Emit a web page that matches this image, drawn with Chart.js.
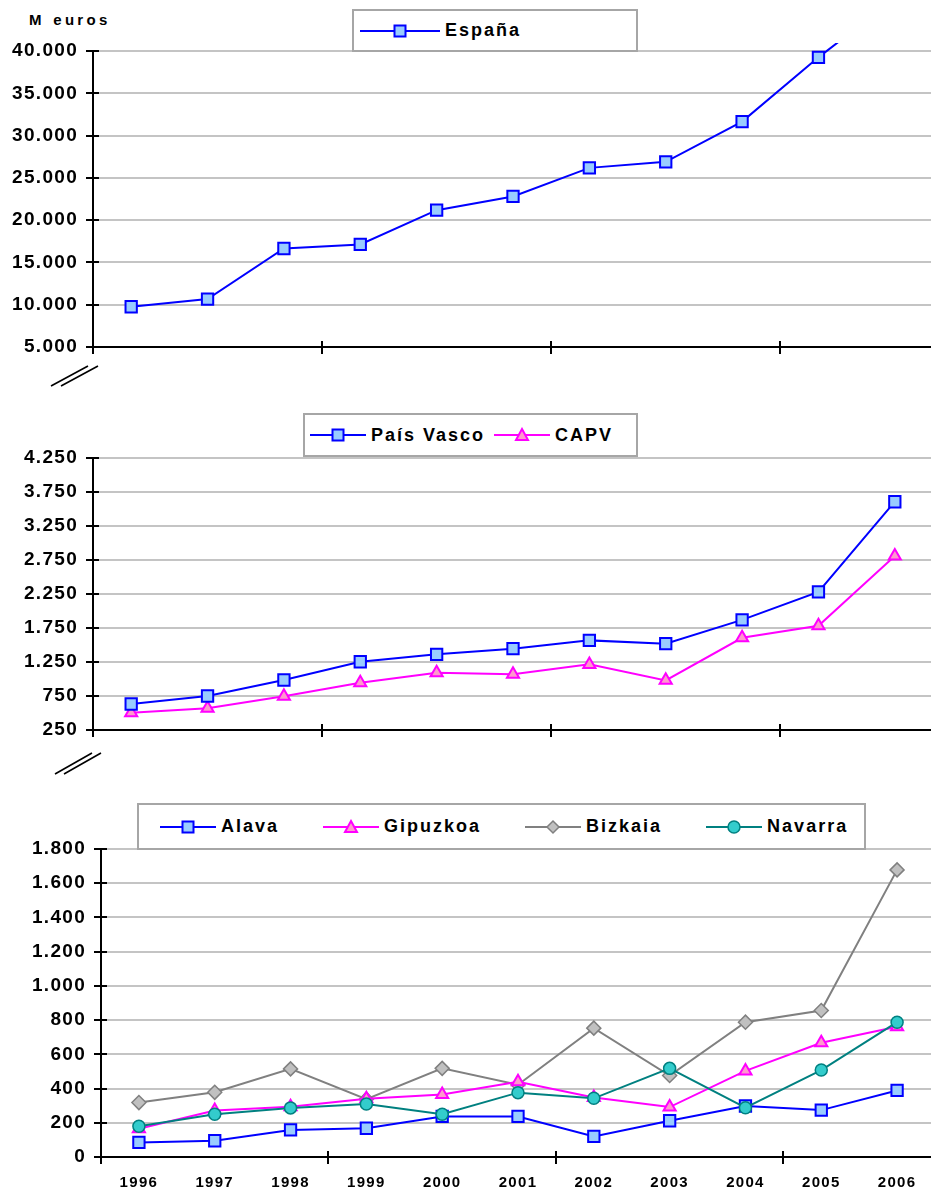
<!DOCTYPE html>
<html>
<head>
<meta charset="utf-8">
<script src="https://cdn.jsdelivr.net/npm/chart.js@4.4.1/dist/chart.umd.min.js"></script>
<style>
  html, body { margin: 0; padding: 0; background: #fff; }
  #page { position: relative; width: 931px; height: 1191px; overflow: hidden;
          font-family: "Liberation Sans", Arial, sans-serif; }
  canvas { position: absolute; left: 0; }
  .legend { position: absolute; box-sizing: border-box; background: #fff;
            border: 2px solid #a6a6a6; display: flex; align-items: center; z-index: 2; }
  .item { display: flex; align-items: center; }
  .item svg { display: block; }
  .item span { font-weight: bold; font-size: 18px; letter-spacing: 2px; color: #000;
               margin-left: 5px; white-space: nowrap; }
  .unit { position: absolute; left: 29px; top: 12px; font-weight: bold; font-size: 15px;
          line-height: 15px; letter-spacing: 3.3px; word-spacing: 1px; color: #000; }
</style>
</head>
<body>
<div id="page">
  <div class="unit">M euros</div>
  <canvas id="c1" width="945" height="400" style="top:0px"></canvas>
  <canvas id="c2" width="945" height="390" style="top:400px"></canvas>
  <canvas id="c3" width="945" height="401" style="top:790px"></canvas>
  <div id="lg1" class="legend" style="left:352px;top:9px;width:286px;height:43px;padding-left:6px"></div>
  <div id="lg2" class="legend" style="left:303px;top:413px;width:335px;height:44px;padding-left:5px;gap:9px"></div>
  <div id="lg3" class="legend" style="left:137px;top:803px;width:729px;height:47px;padding-left:21px;gap:44px"></div>
</div>
<script>
// Years on the category axis
const years = ['1996', '1997', '1998', '1999', '2000', '2001', '2002', '2003', '2004', '2005', '2006'];

// Millions of euros
const espana    = [9760, 10670, 16650, 17130, 21180, 22800, 26180, 26900, 31650, 39250, 46200];
const paisVasco = [632, 750, 985, 1254, 1363, 1446, 1568, 1520, 1870, 2280, 3607];
const capv      = [503, 569, 747, 946, 1093, 1069, 1215, 980, 1606, 1784, 2810];
const alava     = [85, 95, 158, 168, 237, 237, 120, 212, 298, 274, 389];
const gipuzkoa  = [165, 272, 293, 340, 365, 440, 348, 292, 503, 668, 761];
const bizkaia   = [318, 378, 515, 338, 518, 422, 753, 476, 788, 856, 1678];
const navarra   = [180, 250, 287, 310, 250, 376, 343, 518, 288, 508, 788];

// Value axis ranges: [min, max, step]
const range1 = [5000, 40000, 5000];
const range2 = [250, 4250, 500];
const range3 = [0, 1800, 200];

// Marker / line styles
const STYLE = {
  square:   { color: '#0000ff', fill: '#99ccff', pointStyle: 'rect',     radius: 8, bw: 2 },
  triangle: { color: '#ff00ff', fill: '#ff99cc', pointStyle: 'triangle', radius: 7, bw: 2 },
  diamond:  { color: '#808080', fill: '#c0c0c0', pointStyle: 'rectRot',  radius: 7, bw: 1.5 },
  circle:   { color: '#008080', fill: '#33cccc', pointStyle: 'circle',   radius: 6, bw: 1.5 }
};

Chart.defaults.font.family = '"Liberation Sans", Arial, sans-serif';

function fmt(v) {
  return String(v).replace(/\B(?=(\d{3})+(?!\d))/g, '.');
}

function dataset(label, data, st, order, clip) {
  return {
    label, data, order,
    borderColor: st.color, borderWidth: 2, tension: 0,
    pointStyle: st.pointStyle, pointRadius: st.radius, pointHoverRadius: st.radius,
    pointBackgroundColor: st.fill, pointBorderColor: st.color, pointBorderWidth: st.bw,
    clip: clip || { left: 6, right: 6, top: 6, bottom: 6 }
  };
}

// Cross tick marks on both axes, axis break strokes and letter spacing for labels
const axisDecor = {
  id: 'axisDecor',
  beforeDraw(chart) {
    chart.ctx.letterSpacing = '1.3px';
  },
  afterDraw(chart, args, opts) {
    const ctx = chart.ctx, ys = chart.scales.y, xs = chart.scales.x;
    const left = chart.chartArea.left, bottom = chart.chartArea.bottom;
    ctx.save();
    ctx.letterSpacing = '0px';
    ctx.strokeStyle = '#000';
    ctx.lineWidth = 2;
    ctx.beginPath();
    ys.ticks.forEach(t => {
      const y = Math.round(ys.getPixelForValue(t.value));
      ctx.moveTo(left - 7, y);
      ctx.lineTo(left + 6, y);
    });
    const half = (xs.getPixelForValue(1) - xs.getPixelForValue(0)) / 2;
    for (let i = 0; i < years.length; i += 3) {
      const x = Math.round(xs.getPixelForValue(i) - half);
      ctx.moveTo(x, bottom - (i === 0 ? 0 : 6));
      ctx.lineTo(x, bottom + 7);
    }
    ctx.stroke();
    if (opts.breaks) {
      ctx.lineWidth = 1.6;
      ctx.beginPath();
      opts.breaks.forEach(b => {
        ctx.moveTo(left + b[0], bottom + b[1]);
        ctx.lineTo(left + b[2], bottom + b[3]);
      });
      ctx.stroke();
    }
    ctx.restore();
  }
};

function makeChart(id, datasets, range, geo) {
  return new Chart(document.getElementById(id), {
    type: 'line',
    data: { labels: years, datasets },
    options: {
      responsive: false, animation: false, devicePixelRatio: 1,
      layout: { autoPadding: false, padding: { top: geo.top, right: geo.right, left: 0, bottom: 0 } },
      plugins: { legend: { display: false }, tooltip: { enabled: false },
                 axisDecor: { breaks: geo.breaks } },
      scales: {
        x: {
          offset: true,
          grid: { drawOnChartArea: false, drawTicks: false },
          border: { color: '#000', width: 2 },
          ticks: { display: geo.xLabels, autoSkip: false, maxRotation: 0, padding: 17,
                   color: '#000', font: { size: 15, weight: 'bold' } },
          afterFit(s) { s.height = geo.xHeight; }
        },
        y: {
          min: range[0], max: range[1],
          grid: { color: '#c4c4c4', lineWidth: 2, drawTicks: false },
          border: { color: '#000', width: 2 },
          ticks: { stepSize: range[2], padding: 15, color: '#000',
                   font: { size: 19, weight: 'bold' }, callback: v => fmt(v) },
          afterFit(s) { s.width = geo.yWidth; }
        }
      }
    },
    plugins: [axisDecor]
  });
}

function legend(id, items, lineW) {
  const el = document.getElementById(id);
  items.forEach(([name, st]) => {
    const w = lineW, cx = w / 2, cy = 8;
    let shape = '';
    if (st.pointStyle === 'rect') {
      shape = `<rect x="${cx - 5.5}" y="${cy - 5.5}" width="11" height="11" fill="${st.fill}" stroke="${st.color}" stroke-width="2"/>`;
    } else if (st.pointStyle === 'triangle') {
      shape = `<polygon points="${cx},${cy - 6} ${cx + 6},${cy + 5} ${cx - 6},${cy + 5}" fill="${st.fill}" stroke="${st.color}" stroke-width="2"/>`;
    } else if (st.pointStyle === 'rectRot') {
      shape = `<polygon points="${cx},${cy - 6} ${cx + 6},${cy} ${cx},${cy + 6} ${cx - 6},${cy}" fill="${st.fill}" stroke="${st.color}" stroke-width="1.5"/>`;
    } else {
      shape = `<circle cx="${cx}" cy="${cy}" r="6" fill="${st.fill}" stroke="${st.color}" stroke-width="1.5"/>`;
    }
    const item = document.createElement('div');
    item.className = 'item';
    item.innerHTML = `<svg width="${w}" height="16"><line x1="0" y1="${cy}" x2="${w}" y2="${cy}" stroke="${st.color}" stroke-width="2"/>${shape}</svg><span>${name}</span>`;
    el.appendChild(item);
  });
}

makeChart('c1', [dataset('España', espana, STYLE.square, 1, { left: 6, right: 6, top: 8, bottom: 6 })],
  range1, { top: 51, right: 12, xHeight: 53, yWidth: 93, xLabels: false,
            breaks: [[-42, 39, -5, 19], [-32, 39, 5, 19]] });

makeChart('c2', [
    dataset('País Vasco', paisVasco, STYLE.square, 1),
    dataset('CAPV', capv, STYLE.triangle, 2)
  ], range2, { top: 58, right: 12, xHeight: 60, yWidth: 93, xLabels: false,
               breaks: [[-38, 44, -1, 23], [-29, 44, 8, 23]] });

makeChart('c3', [
    dataset('Alava', alava, STYLE.square, 3),
    dataset('Gipuzkoa', gipuzkoa, STYLE.triangle, 2),
    dataset('Bizkaia', bizkaia, STYLE.diamond, 4),
    dataset('Navarra', navarra, STYLE.circle, 1)
  ], range3, { top: 59, right: 10, xHeight: 34, yWidth: 101, xLabels: true, breaks: null });

legend('lg1', [['España', STYLE.square]], 80);
legend('lg2', [['País Vasco', STYLE.square], ['CAPV', STYLE.triangle]], 56);
legend('lg3', [['Alava', STYLE.square], ['Gipuzkoa', STYLE.triangle],
               ['Bizkaia', STYLE.diamond], ['Navarra', STYLE.circle]], 56);
</script>
</body>
</html>
